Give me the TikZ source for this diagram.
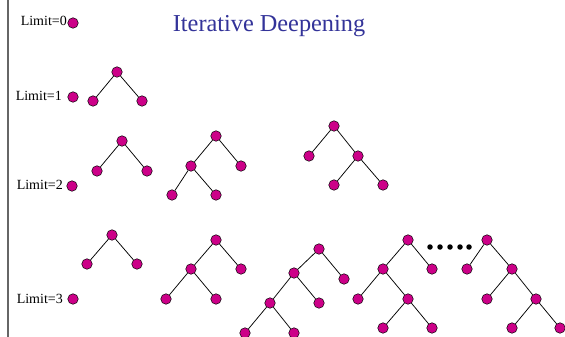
\documentclass[tikz,border=0pt]{standalone}
\usepackage{fontspec}
\setmainfont{Liberation Serif}
\definecolor{vfill}{RGB}{204,0,136}
\definecolor{ttl}{RGB}{51,51,153}
\begin{document}
\begin{tikzpicture}[x=1pt,y=-1pt,
  vx/.style={circle,draw=black,line width=0.5pt,fill=vfill,minimum size=10.5pt,inner sep=0pt},
  dotmark/.style={circle,fill=black,minimum size=5.5pt,inner sep=0pt},
  lbl/.style={anchor=base east,font=\fontsize{14}{16}\selectfont,inner sep=0pt},
  edge/.style={line width=0.75pt,black}]
\useasboundingbox (0,0) rectangle (565,337);
\fill[white] (0,0) rectangle (565,337);
\clip (0,0) rectangle (565,337);

% left rule
\coordinate (ruletop) at (8,0);
\coordinate (rulebot) at (8,337);
\draw[line width=1.3pt,black!60] (ruletop) -- (rulebot);

% title
\node[anchor=base,text=ttl,font=\fontsize{24.3}{28}\selectfont,inner sep=0pt] (title) at (269,32) {Iterative Deepening};

% level labels and single roots
\node[lbl] (l0) at (67,26) {Limit=0};
\node[vx] (r0) at (73,23) {};
\node[lbl] (l1) at (62,100) {Limit=1};
\node[vx] (r1) at (73,97) {};
\node[lbl] (l2) at (63,189) {Limit=2};
\node[vx] (r2) at (72,186) {};
\node[lbl] (l3) at (63,303) {Limit=3};
\node[vx] (r3) at (73,299) {};

% limit 1
\node[vx] (a1) at (117,72) {};
\node[vx] (a1l) at (93,101) {};
\node[vx] (a1r) at (142,101) {};
\draw[edge] (a1) -- (a1l) (a1) -- (a1r);

% limit 2
\node[vx] (b1) at (122,141) {};
\node[vx] (b1l) at (97,171) {};
\node[vx] (b1r) at (147,171) {};
\draw[edge] (b1) -- (b1l) (b1) -- (b1r);

\node[vx] (b2) at (216,136) {};
\node[vx] (b2l) at (191,166) {};
\node[vx] (b2r) at (241,166) {};
\node[vx] (b2ll) at (172,195) {};
\node[vx] (b2lr) at (216,195) {};
\draw[edge] (b2) -- (b2l) (b2) -- (b2r) (b2l) -- (b2ll) (b2l) -- (b2lr);

\node[vx] (b3) at (334,126) {};
\node[vx] (b3l) at (309,156) {};
\node[vx] (b3r) at (358,156) {};
\node[vx] (b3rl) at (334,185) {};
\node[vx] (b3rr) at (383,185) {};
\draw[edge] (b3) -- (b3l) (b3) -- (b3r) (b3r) -- (b3rl) (b3r) -- (b3rr);

% limit 3
\node[vx] (c1) at (112,235) {};
\node[vx] (c1l) at (87,264) {};
\node[vx] (c1r) at (137,264) {};
\draw[edge] (c1) -- (c1l) (c1) -- (c1r);

\node[vx] (c2) at (216,240) {};
\node[vx] (c2l) at (191,269) {};
\node[vx] (c2r) at (241,269) {};
\node[vx] (c2ll) at (166,299) {};
\node[vx] (c2lr) at (216,299) {};
\draw[edge] (c2) -- (c2l) (c2) -- (c2r) (c2l) -- (c2ll) (c2l) -- (c2lr);

\node[vx] (c3) at (319,249) {};
\node[vx] (c3l) at (294,273) {};
\node[vx] (c3r) at (344,279) {};
\node[vx] (c3ll) at (270,303) {};
\node[vx] (c3lr) at (319,303) {};
\node[vx] (c3lll) at (245,333) {};
\node[vx] (c3llr) at (294,333) {};
\draw[edge] (c3) -- (c3l) (c3) -- (c3r) (c3l) -- (c3ll) (c3l) -- (c3lr)
  (c3ll) -- (c3lll) (c3ll) -- (c3llr);

\node[vx] (c4) at (408,240) {};
\node[vx] (c4l) at (383,269) {};
\node[vx] (c4r) at (432,269) {};
\node[vx] (c4ll) at (358,299) {};
\node[vx] (c4lr) at (408,299) {};
\node[vx] (c4lrl) at (383,328) {};
\node[vx] (c4lrr) at (432,328) {};
\draw[edge] (c4) -- (c4l) (c4) -- (c4r) (c4l) -- (c4ll) (c4l) -- (c4lr)
  (c4lr) -- (c4lrl) (c4lr) -- (c4lrr);

\node[vx] (c5) at (487,240) {};
\node[vx] (c5l) at (467,269) {};
\node[vx] (c5r) at (512,269) {};
\node[vx] (c5rl) at (487,299) {};
\node[vx] (c5rr) at (536,299) {};
\node[vx] (c5rrl) at (512,328) {};
\node[vx] (c5rrr) at (560,328) {};
\draw[edge] (c5) -- (c5l) (c5) -- (c5r) (c5r) -- (c5rl) (c5r) -- (c5rr)
  (c5rr) -- (c5rrl) (c5rr) -- (c5rrr);

% ellipsis between the last two trees
\foreach \i/\x in {1/430,2/440,3/450,4/460,5/469}
  \node[dotmark] (dot\i) at (\x,247) {};
\end{tikzpicture}
\end{document}
